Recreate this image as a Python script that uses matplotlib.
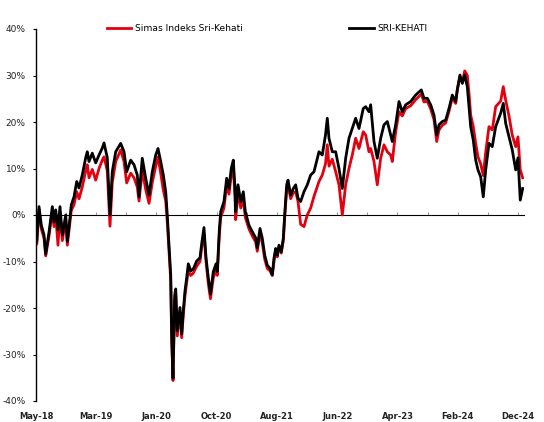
import matplotlib
matplotlib.use("Agg")
import matplotlib.pyplot as plt
import numpy as np

# x position: months since May-2018
months = [0, 0.12, 0.5, 0.88, 1.33, 1.61, 2.16, 2.71, 2.99, 3.27, 3.65, 3.98, 4.37, 4.93, 5.2, 5.64, 5.86,
          6.31, 6.76, 7.14, 7.68, 8.25, 8.51, 8.8, 9.34, 9.91, 10.46, 11.0, 11.29, 11.83, 12.28, 12.66, 13.23,
          14.06, 14.61, 15.05, 15.72, 16.27, 16.81, 17.1, 17.64, 18.21, 18.76, 19.3, 19.87, 20.25, 20.7, 21.13,
          21.53, 21.79, 22.07, 22.36, 22.52, 22.74, 23.02, 23.19, 23.45, 23.9, 24.18, 24.45, 24.73, 25.01, 25.28,
          25.68, 26.11, 26.67, 27.22, 27.5, 27.88, 28.22, 28.6, 28.96, 29.43, 29.88, 30.09, 30.42, 30.66, 31.2,
          31.65, 32.03, 32.41, 32.75, 33.03, 33.14, 33.53, 33.98, 34.41, 34.74, 35.35, 35.9, 36.46, 36.73, 37.18,
          37.56, 37.96, 38.39, 38.84, 39.22, 39.5, 39.78, 40.05, 40.33, 40.71, 41.05, 41.28, 41.61, 41.83, 42.27,
          42.71, 43.1, 43.49, 43.93, 44.48, 45.03, 45.59, 46.14, 46.97, 47.52, 48.05, 48.35, 48.63, 49.18, 49.74,
          50.29, 50.84, 51.4, 51.95, 52.5, 53.06, 53.61, 54.32, 54.72, 55.27, 55.55, 56.1, 56.65, 57.21, 57.76,
          58.31, 58.87, 59.14, 59.7, 60.25, 60.8, 61.36, 62.19, 63.02, 63.95, 64.4, 64.95, 65.51, 66.06, 66.51,
          66.89, 67.44, 68.0, 68.55, 69.1, 69.66, 69.93, 70.37, 70.76, 71.16, 71.59, 71.87, 72.15, 72.58, 72.98,
          73.36, 73.81, 74.24, 74.64, 75.19, 75.73, 76.3, 77.13, 77.56, 77.96, 78.51, 79.05, 79.62, 80.0, 80.38,
          80.78]

# SRI-KEHATI cumulative return (%)
sri_kehati = [0.0, -5.7, 1.8, -2.2, -4.3, -8.4, -3.7, 1.8, -1.5, 1.1, -3.2, 1.8, -4.3, 0.0, -5.7, -0.6, 2.2,
              3.9, 7.2, 5.8, 8.6, 12.3, 13.6, 11.5, 13.3, 11.2, 12.9, 14.4, 15.5, 12.3, 0.0, 9.3, 13.6,
              15.4, 13.6, 9.3, 11.8, 10.8, 8.6, 3.9, 12.2, 7.9, 4.3, 9.3, 12.9, 14.3, 11.5, 8.6,
              5.0, 0.0, -6.5, -12.9, -25.8, -35.1, -17.2, -15.9, -24.9, -19.9, -25.6, -20.6, -16.3, -13.5, -10.5,
              -12.0, -11.6, -9.9, -9.2, -6.2, -2.7, -9.2, -13.5, -17.0, -12.2, -10.5, -12.2, -3.4, 0.7, 2.9,
              7.9, 5.7, 10.0, 11.8, 5.7, 0.7, 6.5, 2.9, 5.0, 0.7, -2.2, -3.6, -4.9, -7.1, -2.9,
              -5.0, -8.6, -10.8, -11.5, -12.9, -9.3, -7.2, -8.6, -6.5, -7.9, -5.0, 0.0, 6.5, 7.5, 4.3,
              5.7, 6.5, 3.6, 2.9, 5.0, 6.5, 8.6, 9.3, 13.6, 12.9, 17.2, 20.8, 16.5, 13.6, 13.6,
              10.0, 5.7, 12.2, 16.5, 18.6, 20.8, 18.6, 22.9, 23.3, 22.2, 23.7, 15.8, 12.2, 16.5, 19.4,
              20.1, 17.2, 15.8, 19.4, 24.4, 22.2, 23.7, 24.4, 25.8, 26.9, 25.1, 25.1, 23.7, 21.5, 17.2,
              19.4, 20.1, 20.4, 22.9, 25.8, 24.4, 26.9, 30.1, 28.3, 30.1, 27.6, 23.3, 19.0, 16.1, 11.8,
              9.7, 8.2, 3.9, 9.7, 15.4, 14.7, 19.0, 21.9, 24.0, 19.7, 16.8, 14.0, 9.7, 12.3, 3.2,
              5.7]

# Simas Indeks Sri-Kehati cumulative return (%)
simas = [-0.5, -6.3, 1.2, -3.0, -5.0, -8.8, -4.5, 0.8, -2.5, 0.0, -6.5, 0.5, -5.5, -1.0, -6.5, -1.5, 1.0,
         2.2, 5.0, 3.5, 6.0, 9.5, 10.8, 8.0, 9.8, 7.5, 10.0, 11.8, 12.5, 9.5, -2.4, 7.0, 11.5,
         14.0, 11.5, 6.9, 9.0, 8.0, 6.0, 3.0, 9.5, 5.5, 2.5, 7.0, 10.5, 12.5, 9.0, 5.4,
         3.0, -1.5, -7.5, -14.0, -27.0, -35.6, -18.5, -17.0, -26.0, -21.0, -26.4, -21.5, -17.3, -14.5, -12.0,
         -13.0, -12.5, -11.0, -10.0, -7.0, -4.0, -10.0, -14.8, -18.0, -13.5, -11.8, -13.0, -4.5, -0.5, 1.5,
         6.5, 4.5, 8.5, 10.0, 4.0, -1.0, 5.0, 1.5, 3.5, -0.5, -3.0, -4.5, -5.8, -7.8, -3.8,
         -6.0, -9.5, -11.5, -12.0, -13.0, -10.0, -7.8, -9.0, -6.8, -8.2, -5.5, -0.5, 5.5, 6.5, 3.5,
         4.8, 5.0, 2.9, -2.0, -2.5, 0.0, 1.5, 4.0, 7.2, 8.6, 11.0, 15.1, 10.5, 12.0, 9.3,
         6.5, 0.0, 6.5, 10.0, 12.9, 16.5, 14.3, 17.9, 17.2, 13.6, 14.3, 11.5, 6.5, 12.2, 15.1,
         13.6, 12.9, 11.5, 17.9, 22.2, 21.3, 22.9, 23.5, 24.8, 26.0, 24.3, 24.5, 22.8, 20.5, 15.8,
         18.3, 19.3, 19.8, 22.3, 25.2, 24.0, 27.0, 29.8, 28.5, 31.0, 30.0, 26.2, 21.5, 19.0, 15.4,
         12.5, 11.0, 8.5, 13.5, 19.0, 18.3, 23.3, 24.5, 27.6, 24.7, 21.3, 17.2, 14.7, 16.8, 9.7,
         8.0]

tick_labels = ["May-18", "Mar-19", "Jan-20", "Oct-20", "Aug-21", "Jun-22", "Apr-23", "Feb-24", "Dec-24"]
tick_months = [0, 10, 20, 30, 40, 50, 60, 70, 80]
y_ticks = [-40, -30, -20, -10, 0, 10, 20, 30, 40]

fig = plt.figure(figsize=(5.44, 4.22), dpi=100)
ax = fig.add_axes([36 / 544, 1 - 401 / 422, (524 - 36) / 544, (401 - 29) / 422])

ax.plot(months, simas, color="#E3000F", lw=2.0, label="Simas Indeks Sri-Kehati", solid_joinstyle="round")
ax.plot(months, sri_kehati, color="#000000", lw=2.0, label="SRI-KEHATI", solid_joinstyle="round")

ax.set_xlim(0, 81)
ax.set_ylim(-40, 40)

for s in ["top", "right", "bottom"]:
    ax.spines[s].set_visible(False)
ax.spines["left"].set_linewidth(1.0)

ax.set_yticks(y_ticks)
ax.set_yticklabels([f"{v}%" for v in y_ticks], fontsize=6.5, color="#222222")
ax.tick_params(axis="y", length=2.5, width=0.8, pad=5, direction="out")

# bottom labels, no tick marks
ax.set_xticks(tick_months)
ax.set_xticklabels(tick_labels, fontsize=6.0, fontweight="bold", color="#222222")
ax.tick_params(axis="x", length=0, pad=8)

# zero axis with minor ticks
sec = ax.secondary_xaxis(0.5)
sec.set_xticks(np.arange(0, 81, 5))
sec.set_xticklabels([])
sec.tick_params(axis="x", length=2.5, width=0.8, color="#999999", direction="out")
sec.spines["bottom"].set_linewidth(1.0)

leg = ax.legend(loc="center", bbox_to_anchor=(0.474, 1.002), ncol=2, frameon=False,
                fontsize=6.6, handlelength=2.7, handletextpad=0.4, columnspacing=11.6,
                borderaxespad=0)

fig.savefig("out.png", dpi=100)
